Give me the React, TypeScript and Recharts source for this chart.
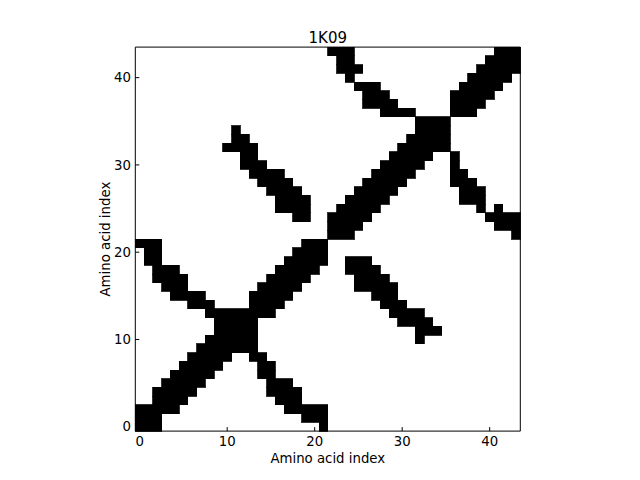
import { ScatterChart, Scatter, XAxis, YAxis, ReferenceArea } from 'recharts';

const TITLE = '1K09';
const AXIS_LABEL = 'Amino acid index';
const TICKS = [0, 10, 20, 30, 40];
const DOMAIN: [number, number] = [-0.5, 43.5];

// black cells of the contact map, one horizontal run per entry: [row, first column, last column]
const lowerRuns: [number, number, number][] = [
  [0, 0, 2], [0, 21, 21],
  [1, 0, 2], [1, 19, 21],
  [2, 0, 4], [2, 17, 21],
  [3, 2, 5], [3, 16, 18],
  [4, 2, 6], [4, 15, 18],
  [5, 3, 7], [5, 15, 17],
  [6, 4, 8], [6, 14, 15],
  [7, 5, 9], [7, 14, 15],
  [8, 6, 10], [8, 13, 14],
  [9, 7, 13],
  [10, 8, 13], [10, 32, 32],
  [11, 9, 13], [11, 32, 34],
  [12, 9, 13], [12, 30, 33],
  [13, 8, 15], [13, 29, 32],
  [14, 6, 8], [14, 13, 16], [14, 28, 30],
  [15, 4, 7], [15, 13, 17], [15, 27, 29],
  [16, 3, 5], [16, 14, 18], [16, 25, 29],
  [17, 2, 5], [17, 15, 19], [17, 25, 28],
  [18, 2, 4], [18, 16, 20], [18, 24, 27],
  [19, 1, 2], [19, 17, 21], [19, 24, 26],
  [20, 1, 2], [20, 18, 21],
  [21, 0, 2], [21, 19, 21],
];

const upperRuns: [number, number, number][] = [
  [22, 22, 24], [22, 43, 43],
  [23, 22, 25], [23, 41, 43],
  [24, 18, 19], [24, 22, 26], [24, 40, 43],
  [25, 16, 19], [25, 23, 27], [25, 39, 39], [25, 41, 41],
  [26, 16, 19], [26, 24, 28], [26, 37, 39],
  [27, 15, 18], [27, 25, 29], [27, 37, 39],
  [28, 14, 17], [28, 26, 30], [28, 36, 38],
  [29, 13, 16], [29, 27, 31], [29, 36, 37],
  [30, 12, 14], [30, 28, 32], [30, 36, 36],
  [31, 12, 13], [31, 29, 33], [31, 36, 36],
  [32, 10, 13], [32, 30, 35],
  [33, 11, 12], [33, 31, 35],
  [34, 11, 11], [34, 32, 35],
  [35, 32, 35],
  [36, 28, 31], [36, 36, 38],
  [37, 26, 29], [37, 36, 39],
  [38, 26, 28], [38, 36, 40],
  [39, 25, 27], [39, 37, 41],
  [40, 24, 24], [40, 38, 42],
  [41, 23, 25], [41, 39, 43],
  [42, 23, 24], [42, 40, 43],
  [43, 22, 24], [43, 41, 43],
];

const FONT = '"DejaVu Sans", sans-serif';
const line = { stroke: '#000', strokeWidth: 1 };
const tickText = { fill: '#000', fontSize: 13.3, fontFamily: FONT };

// plain rect so neighbouring rows don't leave anti-aliased seams
const Cell = (props: any) => {
  const { x, y, width, height } = props;
  return (
    <rect
      x={x}
      y={y}
      width={width}
      height={height}
      fill="#000"
      stroke="#000"
      strokeWidth={0.8}
      shapeRendering="crispEdges"
    />
  );
};

export default function App() {
  const runs = [...lowerRuns, ...upperRuns];
  const cells = runs.flatMap(([row, from, to]) =>
    Array.from({ length: to - from + 1 }, (_, k) => ({ x: from + k, y: row }))
  );

  return (
    <div style={{ position: 'absolute', left: 0, top: 0, width: 640, height: 480, background: '#fff' }}>
      <ScatterChart width={640} height={480} margin={{ top: 46.1, right: 118.7, bottom: 18.9, left: 75.3 }}>
        <XAxis
          dataKey="x"
          type="number"
          domain={DOMAIN}
          allowDataOverflow
          ticks={TICKS}
          interval={0}
          height={30}
          tickSize={-4}
          tickMargin={9.2}
          axisLine={line}
          tickLine={line}
          tick={tickText}
          label={{ value: AXIS_LABEL, position: 'bottom', offset: -8, fill: '#000', fontSize: 13.3, fontFamily: FONT }}
        />
        <XAxis
          xAxisId="top"
          orientation="top"
          type="number"
          domain={DOMAIN}
          allowDataOverflow
          ticks={TICKS}
          interval={0}
          height={1}
          tickSize={-4}
          axisLine={line}
          tickLine={line}
          tick={false}
          label={{ value: TITLE, position: 'top', offset: 2.8, fill: '#000', fontSize: 15, fontFamily: FONT }}
        />
        <YAxis
          dataKey="y"
          type="number"
          domain={DOMAIN}
          allowDataOverflow
          ticks={TICKS}
          interval={0}
          width={60}
          tickSize={-4}
          tickMargin={8.3}
          axisLine={line}
          tickLine={line}
          tick={tickText}
          label={{ value: AXIS_LABEL, angle: -90, position: 'center', fill: '#000', fontSize: 13.3, fontFamily: FONT }}
        />
        <YAxis
          yAxisId="right"
          orientation="right"
          type="number"
          domain={DOMAIN}
          allowDataOverflow
          ticks={TICKS}
          interval={0}
          width={1}
          tickSize={-4}
          axisLine={line}
          tickLine={line}
          tick={false}
        />
        {runs.map(([row, from, to]) => (
          <ReferenceArea
            key={`${row}-${from}`}
            x1={from - 0.5}
            x2={to + 0.5}
            y1={row - 0.5}
            y2={row + 0.5}
            fill="#000"
            fillOpacity={1}
            shape={Cell}
          />
        ))}
        <Scatter data={cells} isAnimationActive={false} shape={() => <g />} />
      </ScatterChart>
    </div>
  );
}
